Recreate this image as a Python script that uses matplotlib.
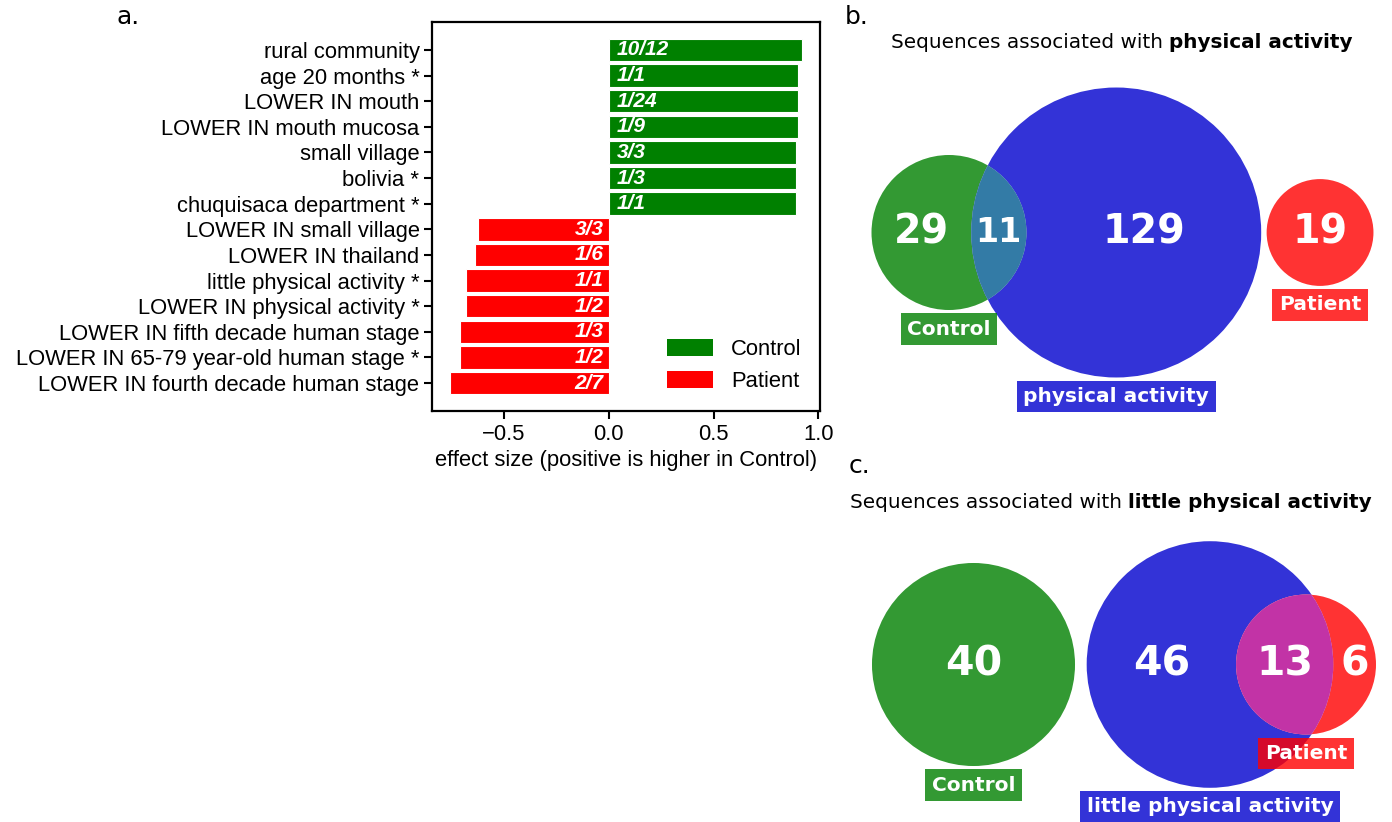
import numpy as np
import matplotlib
matplotlib.use("Agg")
import matplotlib.pyplot as plt
from matplotlib.patches import Circle, Patch
from matplotlib.colors import to_rgb

# ---------------- data ----------------
categories = [
    "rural community", "age 20 months *", "LOWER IN mouth", "LOWER IN mouth mucosa",
    "small village", "bolivia *", "chuquisaca department *", "LOWER IN small village",
    "LOWER IN thailand", "little physical activity *", "LOWER IN physical activity *",
    "LOWER IN fifth decade human stage", "LOWER IN 65-79 year-old human stage *",
    "LOWER IN fourth decade human stage",
]
effect_sizes = [0.924, 0.905, 0.905, 0.905, 0.895, 0.895, 0.895,
                -0.626, -0.640, -0.683, -0.683, -0.712, -0.712, -0.760]
bar_annotations = ["10/12", "1/1", "1/24", "1/9", "3/3", "1/3", "1/1",
                   "3/3", "1/6", "1/1", "1/2", "1/3", "1/2", "2/7"]
groups = ["Control", "Patient"]
xticks = [-0.5, 0.0, 0.5, 1.0]
xlabel = "effect size (positive is higher in Control)"

# Venn b: Control / physical activity / Patient
venn_b_names = ["Control", "physical activity", "Patient"]
venn_b_only = [29, 129, 19]
venn_b_ab = 11           # Control & physical activity
# Venn c: Control / little physical activity / Patient
venn_c_names = ["Control", "little physical activity", "Patient"]
venn_c_only = [40, 46, 6]
venn_c_bc = 13           # little physical activity & Patient

# ---------------- style ----------------
W, H = 1392, 822
fig = plt.figure(figsize=(W / 100, H / 100), dpi=100)
ARIAL = "Liberation Sans"
DV = "DejaVu Sans"
FS = 15.8
group_colors = {"Control": "green", "Patient": "red"}
venn_cols = [to_rgb("green"), to_rgb("mediumblue"), to_rgb("red")]
VALPHA = 0.8


def px_rect(x0, top, x1, bottom):
    return [x0 / W, 1 - bottom / H, (x1 - x0) / W, (bottom - top) / H]


# ---------------- panel a ----------------
ax = fig.add_axes(px_rect(432, 22, 820, 411))
y = np.arange(len(categories))
bar_cols = [group_colors["Control"] if v > 0 else group_colors["Patient"] for v in effect_sizes]
ax.barh(y, effect_sizes, height=0.88, color=bar_cols, edgecolor="white", linewidth=0.8)
ax.set_yticks(y)
ax.set_yticklabels(categories, fontfamily=ARIAL, fontsize=FS)
ax.set_ylim(len(categories) - 1 + 1.09, -1.09)
ax.set_xticks(xticks)
ax.set_xticklabels([f"{t:.1f}".replace("-", "\u2212") for t in xticks], fontfamily=ARIAL, fontsize=FS)
ax.set_xlabel(xlabel, fontfamily=ARIAL, fontsize=FS, labelpad=4)
ax.tick_params(axis="both", length=6, width=1.5, pad=3)
for s in ax.spines.values():
    s.set_linewidth(1.6)
for yi, v, lab in zip(y, effect_sizes, bar_annotations):
    if v > 0:
        ax.annotate(lab, xy=(0, yi), xytext=(8, 0), textcoords="offset pixels",
                    ha="left", va="center", color="white", fontweight="bold",
                    fontstyle="italic", fontfamily=ARIAL, fontsize=15)
    else:
        ax.annotate(lab, xy=(0, yi), xytext=(-5, 0), textcoords="offset pixels",
                    ha="right", va="center", color="white", fontweight="bold",
                    fontstyle="italic", fontfamily=ARIAL, fontsize=15)
handles = [Patch(facecolor=group_colors[g], label=g) for g in groups]
ax.legend(handles=handles, loc="lower right", frameon=False,
          prop={"family": ARIAL, "size": FS}, handlelength=2.1, handleheight=0.8,
          labelspacing=0.5, handletextpad=0.8, borderaxespad=0.45)

fig.text(117 / W, 1 - 24 / H, "a.", fontfamily=DV, fontsize=18, va="baseline")
fig.text(845 / W, 1 - 24 / H, "b.", fontfamily=DV, fontsize=18, va="baseline")
fig.text(849 / W, 1 - 473 / H, "c.", fontfamily=DV, fontsize=18, va="baseline")


# ---------------- venn helpers ----------------
def lens_area(r1, r2, d):
    if d >= r1 + r2:
        return 0.0
    if d <= abs(r1 - r2):
        return np.pi * min(r1, r2) ** 2
    a1 = r1 ** 2 * np.arccos((d * d + r1 * r1 - r2 * r2) / (2 * d * r1))
    a2 = r2 ** 2 * np.arccos((d * d + r2 * r2 - r1 * r1) / (2 * d * r2))
    a3 = 0.5 * np.sqrt((-d + r1 + r2) * (d + r1 - r2) * (d - r1 + r2) * (d + r1 + r2))
    return a1 + a2 - a3


def solve_distance(r1, r2, target):
    lo, hi = abs(r1 - r2) + 1e-9, r1 + r2
    for _ in range(200):
        mid = 0.5 * (lo + hi)
        if lens_area(r1, r2, mid) > target:
            lo = mid
        else:
            hi = mid
    return 0.5 * (lo + hi)


def radius(n):
    return np.sqrt(n / np.pi)


def venn_axes(rect_px, anchor_px, scale):
    x0, top, x1, bottom = rect_px
    a = fig.add_axes(px_rect(x0, top, x1, bottom))
    a.set_xlim((x0 - anchor_px[0]) / scale, (x1 - anchor_px[0]) / scale)
    a.set_ylim((anchor_px[1] - bottom) / scale, (anchor_px[1] - top) / scale)
    a.axis("off")
    return a


def draw_circles(a, centers, radii, overlap_pair):
    circs = []
    for (cx, cy), r, col in zip(centers, radii, venn_cols):
        c = Circle((cx, cy), r, facecolor=col, alpha=VALPHA, edgecolor="none")
        a.add_patch(c)
        circs.append(c)
    i, j = overlap_pair
    mix = np.minimum(0.7 * (np.array(venn_cols[i]) + np.array(venn_cols[j])), 1.0)
    w = Circle(centers[j], radii[j], facecolor="white", edgecolor="none")
    a.add_patch(w)
    w.set_clip_path(circs[i])
    m = Circle(centers[j], radii[j], facecolor=mix, alpha=VALPHA, edgecolor="none")
    a.add_patch(m)
    m.set_clip_path(circs[i])


def set_labels(a, centers, radii, names):
    for (cx, cy), r, name, col in zip(centers, radii, names, venn_cols):
        a.annotate(name, xy=(cx, cy - r), xytext=(0, -19), textcoords="offset pixels",
                   ha="center", va="center", color="white", fontweight="bold",
                   fontfamily=DV, fontsize=14.5, annotation_clip=False,
                   bbox=dict(boxstyle="square,pad=0.32", facecolor=col, alpha=VALPHA,
                             edgecolor="none"))


def num(a, x, yv, n, size):
    a.text(x, yv, str(n), ha="center", va="center", color="white",
           fontweight="bold", fontfamily=DV, fontsize=size)


def mixed_title(cx_px, base_px, normal, bold, size):
    r = fig.canvas.get_renderer()
    t1 = fig.text(0, 0, normal, fontsize=size, fontfamily=DV, va="baseline")
    t2 = fig.text(0, 0, bold, fontsize=size, fontfamily=DV, fontweight="bold", va="baseline")
    w1 = t1.get_window_extent(r).width
    w2 = t2.get_window_extent(r).width
    sp = 0.318 * size * 100 / 72
    x0 = cx_px - (w1 + sp + w2) / 2
    t1.set_position((x0 / W, 1 - base_px / H))
    t2.set_position(((x0 + w1 + sp) / W, 1 - base_px / H))


# ---------------- panel b ----------------
tot_b = [venn_b_only[0] + venn_b_ab, venn_b_only[1] + venn_b_ab, venn_b_only[2]]
rb = [radius(t) for t in tot_b]
d_ab = solve_distance(rb[0], rb[1], venn_b_ab)
gap_b = 0.25
cb = [(0.0, 0.0), (d_ab, 0.0), (d_ab + rb[1] + gap_b + rb[2], 0.0)]
axb = venn_axes((860, 60, 1390, 440), (949, 232.5), 21.72)
draw_circles(axb, cb, rb, (0, 1))
set_labels(axb, cb, rb, venn_b_names)
num(axb, 0.5 * ((cb[0][0] - rb[0]) + (cb[1][0] - rb[1])), 0, venn_b_only[0], 28.5)
num(axb, 0.5 * ((cb[1][0] - rb[1]) + (cb[0][0] + rb[0])), 0, venn_b_ab, 24)
num(axb, 0.5 * ((cb[0][0] + rb[0]) + (cb[1][0] + rb[1])), 0, venn_b_only[1], 28.5)
num(axb, cb[2][0], 0, venn_b_only[2], 28.5)
mixed_title(1121.5, 48, "Sequences associated with", "physical activity", 14.4)

# ---------------- panel c ----------------
tot_c = [venn_c_only[0], venn_c_only[1] + venn_c_bc, venn_c_only[2] + venn_c_bc]
rc = [radius(t) for t in tot_c]
d_bc = solve_distance(rc[1], rc[2], venn_c_bc)
gap_c = 0.41
xb = rc[0] + gap_c + rc[1]
cc = [(0.0, 0.0), (xb, 0.0), (xb + d_bc, 0.0)]
axc = venn_axes((860, 520, 1390, 822), (973.5, 664.5), 28.45)
draw_circles(axc, cc, rc, (1, 2))
set_labels(axc, cc, rc, venn_c_names)
num(axc, cc[0][0], 0, venn_c_only[0], 29.5)
num(axc, 0.5 * ((cc[1][0] - rc[1]) + (cc[2][0] - rc[2])), 0, venn_c_only[1], 29.5)
num(axc, 0.5 * ((cc[2][0] - rc[2]) + (cc[1][0] + rc[1])), 0, venn_c_bc, 29.5)
num(axc, 0.5 * ((cc[1][0] + rc[1]) + (cc[2][0] + rc[2])), 0, venn_c_only[2], 29.5)
mixed_title(1111, 508, "Sequences associated with", "little physical activity", 14.4)

fig.savefig("out.png", dpi=100)
